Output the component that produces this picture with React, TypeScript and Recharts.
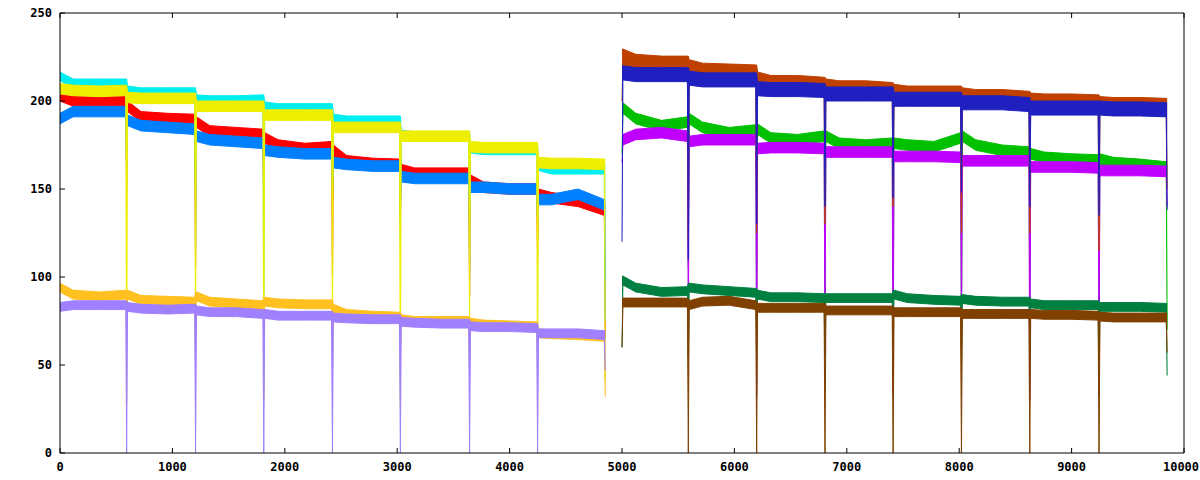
import { ComposedChart, Area, XAxis, YAxis } from "recharts";

// segment boundaries (x where every run restarts)
const leftBounds = [0, 593, 1206, 1813, 2424, 3028, 3644, 4249, 4851];
const rightBounds = [5000, 5590, 6198, 6806, 7412, 8020, 8628, 9244, 9850];

const xTicks = [0, 1000, 2000, 3000, 4000, 5000, 6000, 7000, 8000, 9000, 10000];
const yTicks = [0, 50, 100, 150, 200, 250];

// where inside a segment the levels below are read (0 = start, 1 = end)
const levelAt = [0, 0.2, 0.6, 1];

// band centre per segment, read at the positions above
const redLevels = [[203, 200, 199, 200], [197, 191, 190, 189.5], [188, 183, 182, 181], [179, 175, 173, 174], [172, 166, 164.5, 164], [161, 159, 159, 159], [155, 151, 150, 150], [147, 145, 143, 138]];
const blueLevels = [[190, 194, 194, 194], [189, 186, 185, 184], [180, 178, 177, 176], [172, 171, 170, 170], [165, 164, 163, 163], [157, 156, 156, 156], [151, 151, 150, 150], [144, 144, 147, 141]];
const cyanLevels = [[214, 210, 210, 210], [206, 205, 205, 205], [201, 200.5, 200.5, 201], [197, 196, 196, 196], [190, 189, 189, 189], [181, 180, 180, 180], [173, 172, 172, 172], [163, 161, 161, 161]];
const yellowLevels = [[207, 206, 205.5, 206], [202, 201.5, 201.5, 201.5], [197, 197, 197, 197], [192, 192, 192, 192], [185, 185, 185, 185], [180, 180, 180, 180], [174, 173.5, 173.5, 173.5], [165, 164.5, 164.5, 164]];
const orangeLevels = [[94, 90, 89, 90], [90, 87, 86.5, 86], [89, 86, 85, 84], [86, 85, 84.5, 84.5], [82, 79, 78, 77.5], [76, 75, 75, 75], [74, 73, 72.5, 72], [68, 67.5, 67, 66]];
const lavenderLevels = [[83, 84, 84, 84], [83, 82, 81.5, 82], [81, 80, 80, 79], [79, 78, 78, 78], [77, 76.5, 76, 76], [74.5, 74, 73.5, 73.5], [72, 71.5, 71.5, 71], [68, 68, 68, 67]];

const siennaLevels = [[225, 222, 221, 221], [219, 217, 216.5, 216], [212, 210, 210, 209], [208, 207, 207, 206], [205, 204, 204, 204], [203, 202, 202, 201], [200, 199.5, 199.5, 199], [198, 197.5, 197.5, 197]];
const navyLevels = [[216, 215, 215, 215], [213, 212, 212, 212], [207, 206.5, 206.5, 206], [204, 204, 204, 204], [201, 201, 201, 201], [199, 199, 199, 198], [196, 196, 196, 196], [196, 195.5, 195.5, 195]];
const greenLevels = [[196, 190, 186, 188], [190, 185, 182, 183.5], [184, 179, 178, 180], [180, 176, 175, 176], [176, 175, 174, 179], [180, 175, 172, 171], [170, 168, 167, 166.5], [167, 165, 164, 162.5]];
const magentaLevels = [[178, 181, 182, 180], [177, 178, 178, 178], [173, 173.5, 173.5, 173], [171, 171, 171, 171], [168.5, 168.5, 168.5, 168], [166, 166, 166, 166], [162.5, 162.5, 162.5, 162], [160.5, 160.5, 160.5, 160]];
const darkGreenLevels = [[98, 94, 91.5, 92], [94, 93, 92, 91], [90, 88.5, 88.5, 88], [88, 88, 88, 88], [90, 88, 87, 86.5], [87.5, 86.5, 86, 86], [85, 84, 84, 84], [83, 83, 83, 82.5]];
const brownLevels = [[85.5, 85.5, 85.5, 85.5], [84, 86, 86.5, 84], [82.5, 82.5, 82.5, 82.5], [81, 81, 81, 81], [80, 80, 80, 80], [79, 79, 79, 79], [79, 78.5, 78.5, 78], [77.5, 77, 77, 77]];

// lowest value reached at each restart (last one = end of run)
const redDrops = [150, 105, 140, 100, 130, 89, 110, 65];
const blueDrops = [160, 150, 152, 150, 140, 140, 130, 98];
const cyanDrops = [150, 115, 69, 140, 120, 100, 130, 75];
const yellowDrops = [28, 63, 30, 62, 26, 68, 24, 40];
const orangeDrops = [75, 51, 70, 48, 55, 46, 58, 32];
const lavenderDrops = [0, 0, 0, 0, 0, 0, 0, 47];
const siennaDrops = [120, 125, 130, 140, 125, 125, 115, 150];
const navyDrops = [110, 130, 140, 145, 148, 140, 135, 138];
const greenDrops = [106, 60, 70, 60, 60, 70, 70, 70];
const magentaDrops = [66, 32, 64, 33, 60, 30, 52, 140];
const darkGreenDrops = [55, 69, 55, 68, 53, 66, 32, 44];
const brownDrops = [0, 0, 0, 0, 0, 0, 0, 57];

// noise band height of each series
const spreads = { red: 6, green: 6, blue: 6, magenta: 6, cyan: 5, sienna: 9, yellow: 6, navy: 8, orange: 5, darkGreen: 5, lavender: 5, brown: 5 };

type Def = { key: string; color: string; levels: number[][]; drops: number[]; right: boolean; start?: number };

const defs: Def[] = [
  { key: "red", color: "#ff0000", levels: redLevels, drops: redDrops, right: false },
  { key: "green", color: "#00c000", levels: greenLevels, drops: greenDrops, right: true, start: 170 },
  { key: "blue", color: "#0080ff", levels: blueLevels, drops: blueDrops, right: false },
  { key: "magenta", color: "#c000ff", levels: magentaLevels, drops: magentaDrops, right: true, start: 165 },
  { key: "cyan", color: "#00eeee", levels: cyanLevels, drops: cyanDrops, right: false },
  { key: "sienna", color: "#c04000", levels: siennaLevels, drops: siennaDrops, right: true, start: 200 },
  { key: "yellow", color: "#eeee00", levels: yellowLevels, drops: yellowDrops, right: false },
  { key: "navy", color: "#2020c0", levels: navyLevels, drops: navyDrops, right: true, start: 120 },
  { key: "orange", color: "#ffc020", levels: orangeLevels, drops: orangeDrops, right: false },
  { key: "darkGreen", color: "#008040", levels: darkGreenLevels, drops: darkGreenDrops, right: true, start: 60 },
  { key: "lavender", color: "#a080ff", levels: lavenderLevels, drops: lavenderDrops, right: false },
  { key: "brown", color: "#804000", levels: brownLevels, drops: brownDrops, right: true, start: 60 },
];

const rowMap = new Map<number, Record<string, any>>();
const put = (x: number, key: string, v: [number, number]) => {
  let r = rowMap.get(x);
  if (!r) {
    r = { x };
    rowMap.set(x, r);
  }
  r[key] = v;
};

defs.forEach((d) => {
  const b = d.right ? rightBounds : leftBounds;
  const h = spreads[d.key as keyof typeof spreads] / 2;
  if (d.start !== undefined) put(b[0], d.key, [d.start, d.levels[0][0] + h]);
  d.levels.forEach((lv, k) => {
    const xs = k === 0 && d.start === undefined ? b[0] : b[k] + 8;
    const xe = b[k + 1] - 8;
    lv.forEach((v, i) => {
      put(Math.round(xs + (xe - xs) * levelAt[i]), d.key, [v - h, v + h]);
    });
    const last = lv[lv.length - 1];
    const nextTop = k < d.levels.length - 1 ? d.levels[k + 1][0] + h : last + h;
    put(b[k + 1], d.key, [d.drops[k], Math.max(last + h, nextTop)]);
  });
});

const data = Array.from(rowMap.values())
  .sort((p, q) => p.x - q.x)
  .map((r) => {
    const row: Record<string, any> = { ...r };
    defs.forEach((d) => {
      if (row[d.key] === undefined) row[d.key] = null;
    });
    return row;
  });

const font = { fontFamily: "DejaVu Sans Mono", fontWeight: "bold" as const, fontSize: 12, fill: "#000" };

const BottomTick = ({ x, y, payload }: any) => (
  <g>
    <line x1={x} x2={x} y1={y} y2={y - 5} stroke="#000" />
    <text x={payload.value === 10000 ? x - 3 : x} y={y + 18} textAnchor="middle" {...font}>
      {payload.value}
    </text>
  </g>
);
const TopTick = ({ x, y }: any) => <line x1={x} x2={x} y1={y} y2={y + 5} stroke="#000" />;
const LeftTick = ({ x, y, payload }: any) => (
  <g>
    <line x1={x} x2={x + 5} y1={y} y2={y} stroke="#000" />
    <text x={x - 8} y={y + 4} textAnchor="end" {...font}>
      {payload.value}
    </text>
  </g>
);
const RightTick = ({ x, y }: any) => <line x1={x} x2={x - 5} y1={y} y2={y} stroke="#000" />;

export default function App() {
  return (
    <div style={{ position: "absolute", left: 0, top: 0, background: "#fff" }}>
      <ComposedChart width={1200} height={480} data={data} margin={{ top: 12, right: 15, bottom: 0, left: 0 }}>
        <XAxis dataKey="x" type="number" domain={[0, 10000]} ticks={xTicks} height={27} tickSize={0} tickMargin={0} tickLine={false} tick={<BottomTick />} axisLine={{ stroke: "#000" }} interval={0} />
        <XAxis xAxisId="top" dataKey="x" type="number" orientation="top" domain={[0, 10000]} ticks={xTicks} height={1} tickSize={0} tickMargin={0} tickLine={false} tick={<TopTick />} axisLine={{ stroke: "#000" }} interval={0} />
        <YAxis type="number" domain={[0, 250]} ticks={yTicks} width={60} tickSize={0} tickMargin={0} tickLine={false} tick={<LeftTick />} axisLine={{ stroke: "#000" }} interval={0} />
        <YAxis yAxisId="right" orientation="right" type="number" domain={[0, 250]} ticks={yTicks} width={1} tickSize={0} tickMargin={0} tickLine={false} tick={<RightTick />} axisLine={{ stroke: "#000" }} interval={0} />
        {defs.map((d) => (
          <Area
            key={d.key}
            dataKey={d.key}
            type="linear"
            stroke={d.color}
            strokeWidth={1}
            fill={d.color}
            fillOpacity={1}
            dot={false}
            activeDot={false}
            isAnimationActive={false}
          />
        ))}
      </ComposedChart>
    </div>
  );
}
